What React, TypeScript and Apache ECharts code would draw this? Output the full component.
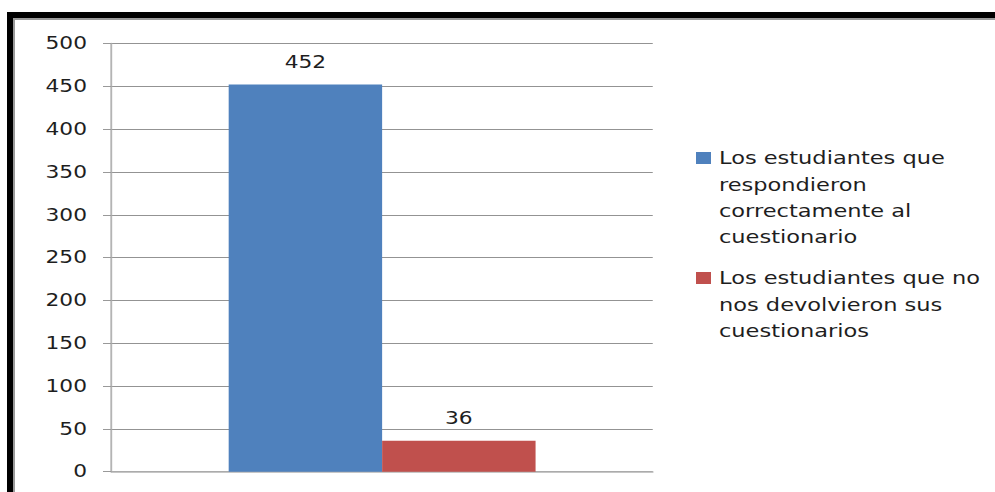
import React, { useEffect, useRef } from "react";
import * as echarts from "echarts";

// ---- data ----
const categories = [""];
const seriesNames = [
  "Los estudiantes que respondieron correctamente al cuestionario",
  "Los estudiantes que no nos devolvieron sus cuestionarios",
];
const legendLines = [
  ["Los estudiantes que", "respondieron", "correctamente al", "cuestionario"],
  ["Los estudiantes que no", "nos devolvieron sus", "cuestionarios"],
];
const respondedValues = [452];
const notReturnedValues = [36];
const yMin = 0;
const yMax = 500;
const yInterval = 50;
const colors = ["#4F81BD", "#C0504D"];

// ---- layout (the reference is horizontally stretched) ----
const W = 995;
const H = 492;
const S = 1.25;
const IW = W / S;
const FONT = "DejaVu Sans";

export default function App() {
  const ref = useRef<HTMLDivElement>(null);

  useEffect(() => {
    if (!ref.current) return;
    const chart = echarts.init(ref.current, undefined, { renderer: "svg" });

    const legendGraphics: any[] = [];
    const legendTops = [152, 272];
    seriesNames.forEach((_, i) => {
      legendGraphics.push({
        type: "rect",
        shape: { x: 556.8, y: legendTops[i], width: 12, height: 12 },
        style: { fill: colors[i] },
      });
      legendGraphics.push({
        type: "text",
        x: 575.2,
        y: legendTops[i] + 6 - 13,
        style: {
          text: legendLines[i].join("\n"),
          font: `18px "${FONT}"`,
          lineHeight: 26.3,
          fill: "#1e1e1e",
          verticalAlign: "top",
          align: "left",
        },
      });
    });

    chart.setOption({
      animation: false,
      backgroundColor: "#ffffff",
      grid: { left: 89.2, right: IW - 522.2, top: 43.5, bottom: 20.3 },
      legend: { show: false, data: seriesNames },
      xAxis: {
        type: "category",
        data: categories,
        axisLine: { show: true, lineStyle: { color: "#b4b4b4", width: 1.5 } },
        axisTick: { show: false },
        axisLabel: { show: false },
        splitLine: { show: false },
      },
      yAxis: {
        type: "value",
        min: yMin,
        max: yMax,
        interval: yInterval,
        axisLine: { show: true, lineStyle: { color: "#b4b4b4", width: 1.5 } },
        axisTick: { show: true, length: 6.8, lineStyle: { color: "#999999" } },
        axisLabel: {
          margin: 19.6,
          color: "#1e1e1e",
          fontFamily: FONT,
          fontSize: 17.4,
        },
        splitLine: { show: true, lineStyle: { color: "#939393", width: 1 } },
      },
      series: [
        {
          name: seriesNames[0],
          type: "bar",
          data: respondedValues,
          barGap: "0%",
          barCategoryGap: "43.3%",
          itemStyle: { color: colors[0] },
          label: {
            show: true,
            position: "top",
            distance: 14,
            color: "#1e1e1e",
            fontFamily: FONT,
            fontSize: 17.4,
          },
        },
        {
          name: seriesNames[1],
          type: "bar",
          data: notReturnedValues,
          barGap: "0%",
          barCategoryGap: "43.3%",
          itemStyle: { color: colors[1] },
          label: {
            show: true,
            position: "top",
            distance: 14,
            color: "#1e1e1e",
            fontFamily: FONT,
            fontSize: 17.4,
          },
        },
      ],
      graphic: [
        // frame: black top and left edges with a grey inner line
        { type: "rect", shape: { x: 5.6, y: 12, width: IW, height: 6 }, style: { fill: "#000000" } },
        { type: "rect", shape: { x: 5.6, y: 12, width: 4.8, height: H }, style: { fill: "#000000" } },
        { type: "rect", shape: { x: 10.4, y: 18, width: IW, height: 2 }, style: { fill: "#9a9a9a" } },
        { type: "rect", shape: { x: 10.4, y: 18, width: 1.6, height: H }, style: { fill: "#9a9a9a" } },
        ...legendGraphics,
      ],
    });

    return () => chart.dispose();
  }, []);

  return (
    <div
      style={{
        position: "fixed",
        left: 0,
        top: 0,
        width: W,
        height: H,
        overflow: "hidden",
        background: "#ffffff",
      }}
    >
      <div
        ref={ref}
        style={{
          width: IW,
          height: H,
          transform: `scaleX(${S})`,
          transformOrigin: "0 0",
        }}
      />
    </div>
  );
}
